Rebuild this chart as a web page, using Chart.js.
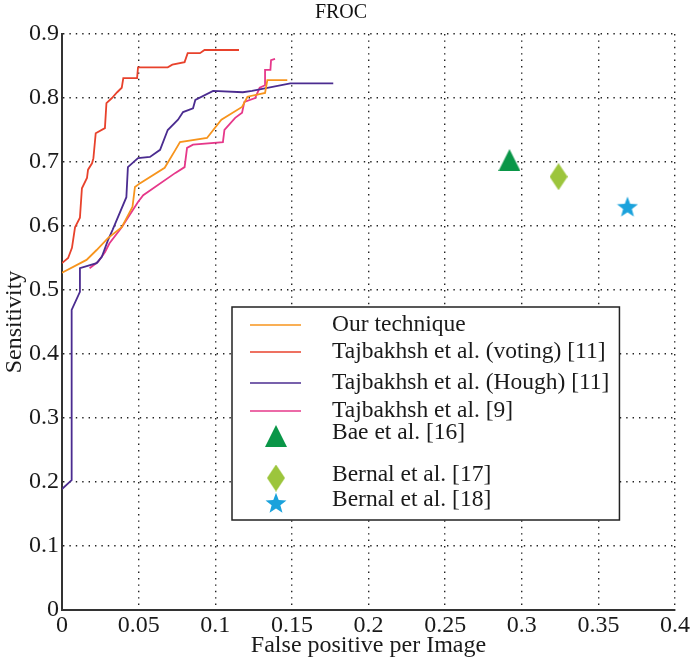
<!DOCTYPE html>
<html>
<head>
<meta charset="utf-8">
<script src="https://cdn.jsdelivr.net/npm/chart.js@4.4.0/dist/chart.umd.min.js"></script>
<style>
  html, body { margin: 0; background: #fff; }
</style>
</head>
<body>
<canvas id="froc" width="693" height="660"></canvas>
<script>
// Data
const seriesNames = [
    'Our technique',
    'Tajbakhsh et al. (voting) [11]',
    'Tajbakhsh et al. (Hough) [11]',
    'Tajbakhsh et al. [9]',
    'Bae et al. [16]',
    'Bernal et al. [17]',
    'Bernal et al. [18]'
];

const ourX = [0, 0.016, 0.0226, 0.030, 0.039, 0.046, 0.0476, 0.051, 0.067, 0.074, 0.077, 0.0946, 0.104, 0.1175, 0.121, 0.1325, 0.134, 0.147];
const ourY = [0.527, 0.547, 0.5625, 0.581, 0.598, 0.630, 0.661, 0.667, 0.691, 0.719, 0.731, 0.7375, 0.766, 0.786, 0.802, 0.808, 0.828, 0.828];

const votingX = [0, 0.004, 0.0065, 0.0085, 0.0117, 0.013, 0.0163, 0.017, 0.0196, 0.0205, 0.022, 0.028, 0.029, 0.0326, 0.036, 0.039, 0.040, 0.049, 0.0496, 0.069, 0.072, 0.080, 0.082, 0.090, 0.093, 0.1155];
const votingY = [0.542, 0.550, 0.566, 0.598, 0.613, 0.659, 0.675, 0.688, 0.698, 0.706, 0.745, 0.753, 0.792, 0.800, 0.809, 0.816, 0.831, 0.831, 0.848, 0.848, 0.852, 0.856, 0.870, 0.870, 0.875, 0.875];

const houghX = [0, 0.0063, 0.0063, 0.0117, 0.0117, 0.0226, 0.026, 0.030, 0.033, 0.042, 0.043, 0.0496, 0.0574, 0.064, 0.069, 0.0757, 0.079, 0.0855, 0.087, 0.0986, 0.118, 0.124, 0.149, 0.177];
const houghY = [0.189, 0.203, 0.469, 0.497, 0.534, 0.542, 0.552, 0.578, 0.594, 0.645, 0.692, 0.706, 0.708, 0.719, 0.750, 0.766, 0.778, 0.784, 0.797, 0.811, 0.809, 0.811, 0.823, 0.823];

const taj9X = [0.018, 0.0235, 0.028, 0.031, 0.039, 0.0496, 0.053, 0.074, 0.080, 0.0816, 0.0855, 0.105, 0.106, 0.113, 0.1175, 0.119, 0.126, 0.129, 0.1325, 0.1325, 0.136, 0.1364, 0.139];
const taj9Y = [0.534, 0.544, 0.559, 0.573, 0.598, 0.6375, 0.648, 0.683, 0.692, 0.722, 0.727, 0.731, 0.75, 0.769, 0.777, 0.794, 0.800, 0.816, 0.820, 0.844, 0.844, 0.859, 0.861];

const baePoint = [0.292, 0.703];
const bernal17Point = [0.324, 0.677];
const bernal18Point = [0.369, 0.630];

const xTickLabels = ['0', '0.05', '0.1', '0.15', '0.2', '0.25', '0.3', '0.35', '0.4'];
const yTickLabels = ['0', '0.1', '0.2', '0.3', '0.4', '0.5', '0.6', '0.7', '0.8', '0.9'];

const SERIF = "'Liberation Serif', 'Times New Roman', serif";

const toPoints = (xs, ys) => xs.map((x, i) => ({ x: x, y: ys[i] }));

// marker images (filled shapes the library doesn't have)
function makeMarker(kind, color) {
    const c = document.createElement('canvas');
    const ctx = c.getContext('2d');
    if (kind === 'triangle') {
        c.width = 22; c.height = 22;
        ctx.fillStyle = color;
        ctx.beginPath();
        ctx.moveTo(11, 0); ctx.lineTo(22, 22); ctx.lineTo(0, 22);
        ctx.closePath(); ctx.fill();
    } else if (kind === 'diamond') {
        c.width = 18; c.height = 27;
        ctx.fillStyle = color;
        ctx.beginPath();
        ctx.moveTo(9, 0); ctx.lineTo(18, 13.5); ctx.lineTo(9, 27); ctx.lineTo(0, 13.5);
        ctx.closePath(); ctx.fill();
    } else {
        c.width = 22; c.height = 22;
        ctx.fillStyle = color;
        ctx.beginPath();
        for (let i = 0; i < 10; i++) {
            const r = i % 2 === 0 ? 11 : 4.6;
            const a = -Math.PI / 2 + i * Math.PI / 5;
            const px = 11 + r * Math.cos(a), py = 11.8 + r * Math.sin(a);
            if (i === 0) ctx.moveTo(px, py); else ctx.lineTo(px, py);
        }
        ctx.closePath(); ctx.fill();
    }
    return c;
}

const triangleImg = makeMarker('triangle', '#0A9648');
const diamondImg = makeMarker('diamond', '#9CC53C');
const starImg = makeMarker('star', '#1AA2DC');

function lineSet(label, xs, ys, color) {
    return {
        label: label,
        data: toPoints(xs, ys),
        borderColor: color,
        backgroundColor: color,
        borderWidth: 1.8,
        pointRadius: 0,
        tension: 0,
        showLine: true
    };
}

function pointSet(label, pt, img) {
    return {
        label: label,
        data: [{ x: pt[0], y: pt[1] }],
        pointStyle: img,
        pointRadius: 11,
        showLine: false
    };
}

// title drawn above the plot
const titlePlugin = {
    id: 'frocTitle',
    afterDraw(chart) {
        const ctx = chart.ctx;
        ctx.save();
        ctx.fillStyle = '#111';
        ctx.font = '20px ' + SERIF;
        ctx.textAlign = 'center';
        ctx.textBaseline = 'middle';
        ctx.fillText('FROC', 341, 13);
        ctx.restore();
    }
};

// boxed legend inside the plot area
const legendPlugin = {
    id: 'boxLegend',
    afterDraw(chart) {
        const ctx = chart.ctx;
        const rowY = [325, 352, 383, 411, 433, 475, 500];
        const left = 232, top = 307, bottom = 520;
        const textX = 332;
        ctx.save();
        ctx.font = '23.5px ' + SERIF;
        let maxW = 0;
        chart.data.datasets.forEach(ds => { maxW = Math.max(maxW, ctx.measureText(ds.label).width); });
        const right = textX + maxW + 10;
        ctx.fillStyle = '#fff';
        ctx.fillRect(left, top, right - left, bottom - top);
        ctx.strokeStyle = '#222';
        ctx.lineWidth = 1.5;
        ctx.strokeRect(left, top, right - left, bottom - top);
        chart.data.datasets.forEach((ds, i) => {
            const y = rowY[i];
            if (ds.showLine) {
                ctx.strokeStyle = ds.borderColor;
                ctx.lineWidth = 1.5;
                ctx.beginPath();
                ctx.moveTo(250, y); ctx.lineTo(301, y);
                ctx.stroke();
            } else {
                const img = ds.pointStyle;
                ctx.drawImage(img, 276 - img.width / 2, y + 3 - img.height / 2);
            }
            ctx.fillStyle = '#1a1a1a';
            ctx.textAlign = 'left';
            ctx.textBaseline = 'middle';
            ctx.fillText(ds.label, textX, y);
        });
        ctx.restore();
    }
};

const gridOpts = { color: '#222', lineWidth: 1.4, drawTicks: false };
const borderOpts = { color: '#333', width: 2, dash: [1.4, 5] };

new Chart(document.getElementById('froc'), {
    type: 'scatter',
    data: {
        datasets: [
            lineSet(seriesNames[0], ourX, ourY, '#F7941D'),
            lineSet(seriesNames[1], votingX, votingY, '#E8422C'),
            lineSet(seriesNames[2], houghX, houghY, '#4B2C90'),
            lineSet(seriesNames[3], taj9X, taj9Y, '#E6388A'),
            pointSet(seriesNames[4], baePoint, triangleImg),
            pointSet(seriesNames[5], bernal17Point, diamondImg),
            pointSet(seriesNames[6], bernal18Point, starImg)
        ]
    },
    options: {
        responsive: false,
        animation: false,
        layout: { padding: { top: 34, right: 18, left: 0, bottom: 0 } },
        plugins: {
            legend: { display: false },
            title: { display: false },
            tooltip: { enabled: false }
        },
        scales: {
            x: {
                type: 'linear',
                min: 0, max: 0.4,
                grid: gridOpts,
                border: borderOpts,
                ticks: {
                    stepSize: 0.05,
                    padding: 1,
                    color: '#1a1a1a',
                    font: { family: SERIF, size: 24 },
                    maxRotation: 0,
                    callback: (v, i) => xTickLabels[i]
                },
                title: {
                    display: true,
                    text: 'False positive per Image',
                    color: '#1a1a1a',
                    font: { family: SERIF, size: 24 },
                    padding: { top: 0, bottom: 0 }
                },
                afterFit: s => { s.height = 50; }
            },
            y: {
                type: 'linear',
                min: 0, max: 0.9,
                grid: gridOpts,
                border: borderOpts,
                ticks: {
                    stepSize: 0.1,
                    padding: 3,
                    color: '#1a1a1a',
                    font: { family: SERIF, size: 24 },
                    callback: (v, i) => yTickLabels[i]
                },
                title: {
                    display: true,
                    text: 'Sensitivity',
                    color: '#1a1a1a',
                    font: { family: SERIF, size: 24 },
                    padding: { top: 0, bottom: 0 }
                },
                afterFit: s => { s.width = 62; }
            }
        }
    },
    plugins: [titlePlugin, legendPlugin]
});
</script>
</body>
</html>
